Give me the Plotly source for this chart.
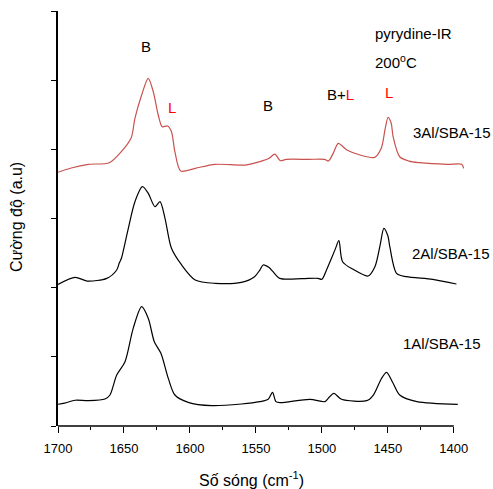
import plotly.graph_objects as go

# ---- data ----
wn_3al = [1700, 1690, 1677, 1661, 1652, 1644.5, 1641.7, 1636.6, 1631.6, 1627.8, 1624, 1621, 1617, 1614,
          1611.4, 1607, 1596, 1581, 1558, 1547, 1540, 1535.6, 1531.5, 1527, 1510, 1498, 1495, 1491,
          1487.6, 1481, 1471, 1460, 1455, 1452, 1449.8, 1447.5, 1446, 1441, 1434, 1426, 1405, 1394, 1392.5]
int_3al = [3.668, 3.73, 3.783, 3.807, 3.966, 4.168, 4.448, 4.785, 5.026, 4.833, 4.496, 4.327, 4.337, 4.255,
           3.966, 3.687, 3.725, 3.783, 3.773, 3.822, 3.87, 3.932, 3.836, 3.855, 3.855, 3.855, 3.831, 3.96,
           4.087, 3.99, 3.918, 3.884, 4.015, 4.3, 4.463, 4.38, 4.183, 3.893, 3.83, 3.807, 3.783, 3.783, 3.725]

wn_2al = [1700, 1687, 1678, 1663, 1655.5, 1653.5, 1652.5, 1651.8, 1646.7, 1641.7, 1636, 1631.6, 1626.5,
          1622.7, 1618.9, 1614, 1606.3, 1596, 1581, 1561, 1551, 1547, 1544.5, 1540, 1537, 1532, 1515, 1503,
          1500, 1496.5, 1490, 1487.1, 1484.3, 1476.3, 1465, 1459.8, 1456, 1453, 1450, 1448.5, 1443.4, 1436,
          1416, 1398]
int_2al = [2.048, 2.150, 2.096, 2.135, 2.255, 2.36, 2.40, 2.433, 2.858, 3.243, 3.460, 3.364, 3.171,
           3.243, 3.003, 2.569, 2.328, 2.111, 2.063, 2.077, 2.159, 2.255, 2.328, 2.29, 2.231, 2.135, 2.13, 2.135,
           2.121, 2.255, 2.55, 2.679, 2.375, 2.265, 2.169, 2.303, 2.6, 2.858, 2.75, 2.592, 2.207, 2.159,
           2.121, 2.053]

wn_1al = [1700, 1695, 1687, 1677, 1664.4, 1660.6, 1655.5, 1649.2, 1643, 1636.6, 1631.6, 1627, 1622, 1616.4,
          1611.4, 1601.3, 1583.6, 1561, 1547, 1540.7, 1537.4, 1534.8, 1531.8, 1509, 1497.7, 1495.2, 1490.9,
          1485.1, 1466, 1461, 1455, 1451, 1446, 1441, 1428, 1397]
int_1al = [0.314, 0.33, 0.372, 0.366, 0.39, 0.448, 0.737, 0.930, 1.412, 1.725, 1.557, 1.219, 1.051, 0.689,
           0.448, 0.342, 0.294, 0.318, 0.352, 0.386, 0.487, 0.352, 0.337, 0.386, 0.352, 0.400, 0.472,
           0.386, 0.366, 0.448, 0.68, 0.776, 0.617, 0.448, 0.352, 0.314]

x_ticks = [1700, 1650, 1600, 1550, 1500, 1450, 1400]
x_minor = [1675, 1625, 1575, 1525, 1475, 1425]
y_ticks = [0, 1, 2, 3, 4, 5, 6]

FONT = "Liberation Sans, Arial, sans-serif"
RED = "#c8524e"

fig = go.Figure()
fig.add_trace(go.Scatter(x=wn_3al, y=int_3al, mode="lines", line=dict(color=RED, width=1.2, shape="spline", smoothing=0.8)))
fig.add_trace(go.Scatter(x=wn_2al, y=int_2al, mode="lines", line=dict(color="black", width=1.2, shape="spline", smoothing=0.8)))
fig.add_trace(go.Scatter(x=wn_1al, y=int_1al, mode="lines", line=dict(color="black", width=1.2, shape="spline", smoothing=0.8)))

def ann(text, x, y, color="black", size=15, xanchor="center", xref="x", yref="y", angle=0):
    fig.add_annotation(x=x, y=y, xref=xref, yref=yref, text=text, showarrow=False, xanchor=xanchor,
                       yanchor="middle", textangle=angle,
                       font=dict(family=FONT, size=size, color=color))

ann("B", 1633, 5.48)
ann("L", 1613.6, 4.6, color="red")
ann("B", 1541, 4.63)
ann("B+<span style='color:red'>L</span>", 1485.6, 4.79)
ann("L", 1449, 4.82, color="red")
ann("pyrydine-IR", 1461, 5.68, xanchor="left")
ann("200<sup>o</sup>C", 1461, 5.27, xanchor="left")
ann("3Al/SBA-15", 1401.5, 4.24)
ann("2Al/SBA-15", 1402, 2.50)
ann("1Al/SBA-15", 1409, 1.20)
# axis titles
ann("Số sóng (cm<sup>-1</sup>)", 0.472, -0.127, size=16, xref="paper", yref="paper")
ann("Cường độ (a.u)", -0.100, 0.504, size=16, xref="paper", yref="paper", angle=-90)

# x axis line only spanning 1700..1400
fig.add_shape(type="line", xref="x", yref="paper", x0=1700, x1=1400, y0=0, y1=0,
              line=dict(color="black", width=1.6))

fig.update_layout(
    width=493, height=489,
    margin=dict(l=58, r=26, t=11, b=63, autoexpand=False),
    paper_bgcolor="white", plot_bgcolor="white",
    showlegend=False,
    font=dict(family=FONT, color="black"),
    xaxis=dict(range=[1700, 1390], tickvals=x_ticks, ticktext=[str(v) for v in x_ticks],
               ticks="outside", ticklen=6, tickwidth=1.2, tickcolor="black", automargin=False,
               ticklabelstandoff=4,
               showline=False, showgrid=False, zeroline=False,
               tickfont=dict(family=FONT, size=13, color="black"),
               minor=dict(tickvals=x_minor, ticks="outside", ticklen=3, tickcolor="black", tickwidth=1)),
    yaxis=dict(range=[0, 6], tickvals=y_ticks, showticklabels=False, automargin=False,
               ticks="outside", ticklen=5, tickwidth=1.2, tickcolor="black",
               showline=True, linecolor="black", linewidth=1.6, showgrid=False, zeroline=False),
)

fig.write_html("out.html", config={"displayModeBar": False},
               post_script="document.body.style.margin='0';document.body.style.overflow='hidden';")
